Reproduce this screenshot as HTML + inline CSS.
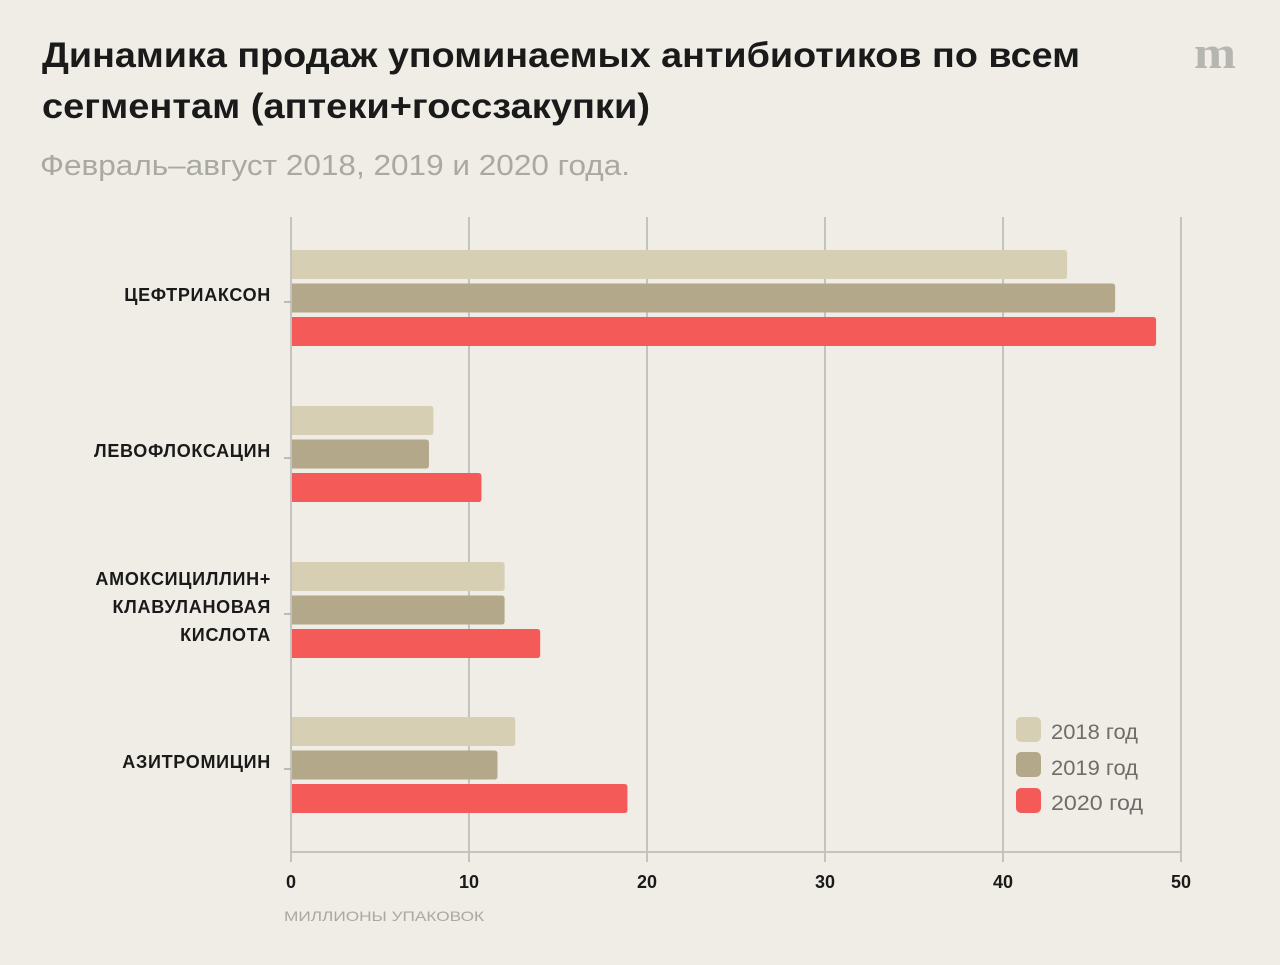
<!DOCTYPE html>
<html><head><meta charset="utf-8"><style>
html,body{margin:0;padding:0;background:#efede5;}
svg{display:block;font-family:"Liberation Sans",sans-serif;}
</style></head><body>
<svg id="chart" width="1280" height="965" viewBox="0 0 1280 965">
<rect width="1280" height="965" fill="#efede5"/>
<text x="42" y="67" font-size="35" font-weight="bold" fill="#1a1a1a" textLength="1038" lengthAdjust="spacingAndGlyphs">Динамика продаж упоминаемых антибиотиков по всем</text>
<text x="42" y="118" font-size="35" font-weight="bold" fill="#1a1a1a" textLength="608" lengthAdjust="spacingAndGlyphs">сегментам (аптеки+госсзакупки)</text>
<text x="40" y="175" font-size="29" fill="#a9a8a2" textLength="590" lengthAdjust="spacingAndGlyphs">Февраль–август 2018, 2019 и 2020 года.</text>
<text x="1194" y="68" font-size="46" font-weight="bold" fill="#b5b5b2" font-family="Liberation Serif,serif" textLength="42" lengthAdjust="spacingAndGlyphs">m</text>
<g id="grid"></g>
<g id="bars"></g>
<g id="labels"></g>
<text x="284" y="921" font-size="14" fill="#a9a8a2" textLength="200" lengthAdjust="spacingAndGlyphs">МИЛЛИОНЫ УПАКОВОК</text>
<g>
<rect x="1016" y="717" width="25" height="25" rx="5" fill="#d6cfb4"/>
<text x="1051" y="739" font-size="21" fill="#6f6d69" textLength="87" lengthAdjust="spacingAndGlyphs">2018 год</text>
<rect x="1016" y="752" width="25" height="25" rx="5" fill="#b3a889"/>
<text x="1051" y="775" font-size="21" fill="#6f6d69" textLength="87" lengthAdjust="spacingAndGlyphs">2019 год</text>
<rect x="1016" y="788" width="25" height="25" rx="5" fill="#f45a57"/>
<text x="1051" y="810" font-size="21" fill="#6f6d69" textLength="92" lengthAdjust="spacingAndGlyphs">2020 год</text>
</g>
</svg>
<script>
const categories=[["ЦЕФТРИАКСОН"],["ЛЕВОФЛОКСАЦИН"],["АМОКСИЦИЛЛИН+","КЛАВУЛАНОВАЯ","КИСЛОТА"],["АЗИТРОМИЦИН"]];
const values2018=[43.6,8.0,12.0,12.6];
const values2019=[46.3,7.75,12.0,11.6];
const values2020=[48.6,10.7,14.0,18.9];
const xTicks=[0,10,20,30,40,50];
const NS="http://www.w3.org/2000/svg";
const x0=291,x1=1181,xMax=50;
const xs=v=>x0+(x1-x0)*v/xMax;
const groupTop=[250,406,562,717];
function mk(tag,attrs,parent){const e=document.createElementNS(NS,tag);for(const k in attrs)e.setAttribute(k,attrs[k]);parent.appendChild(e);return e;}
const grid=document.getElementById('grid'),bars=document.getElementById('bars'),labels=document.getElementById('labels');
xTicks.forEach((t,i)=>{
 const l=mk('line',{x1:xs(t),x2:xs(t),y1:217,y2:862,stroke:'#c4c3bf','stroke-width':2},grid);
 
 
 const tx=mk('text',{x:xs(t),y:888,'font-size':18,'font-weight':'bold','text-anchor':'middle',fill:'#1a1a1a'},labels);
 tx.textContent=t;
 
 
});
const base=mk('line',{x1:x0,x2:x1,y1:852,y2:852,stroke:'#c4c3bf','stroke-width':2},grid);


const series=[[values2018,'#d6cfb4'],[values2019,'#b3a889'],[values2020,'#f45a57']];
categories.forEach((c,ci)=>{
 const top=groupTop[ci];
 series.forEach((s,si)=>{
  const y=top+si*33.5,w=xs(s[0][ci])-x0-1;
  const r=mk('path',{d:`M${x0+1},${y}h${w-3}q3,0 3,3v23q0,3 -3,3h${-(w-3)}z`,fill:s[1]},bars);
  
  
 });
 const tk=mk('line',{x1:284,x2:291,y1:top+52,y2:top+52,stroke:'#aaa','stroke-width':1.5},grid);
 
 
 const n=c.length,mid=top+45;
 c.forEach((line,li)=>{
  const t=mk('text',{x:271,y:mid+6+(li-(n-1)/2)*28,'font-size':18,'font-weight':'bold','text-anchor':'end',fill:'#1a1a1a','letter-spacing':0.7},labels);
  t.textContent=line;
  
  
 });
});
</script>
</body></html>
